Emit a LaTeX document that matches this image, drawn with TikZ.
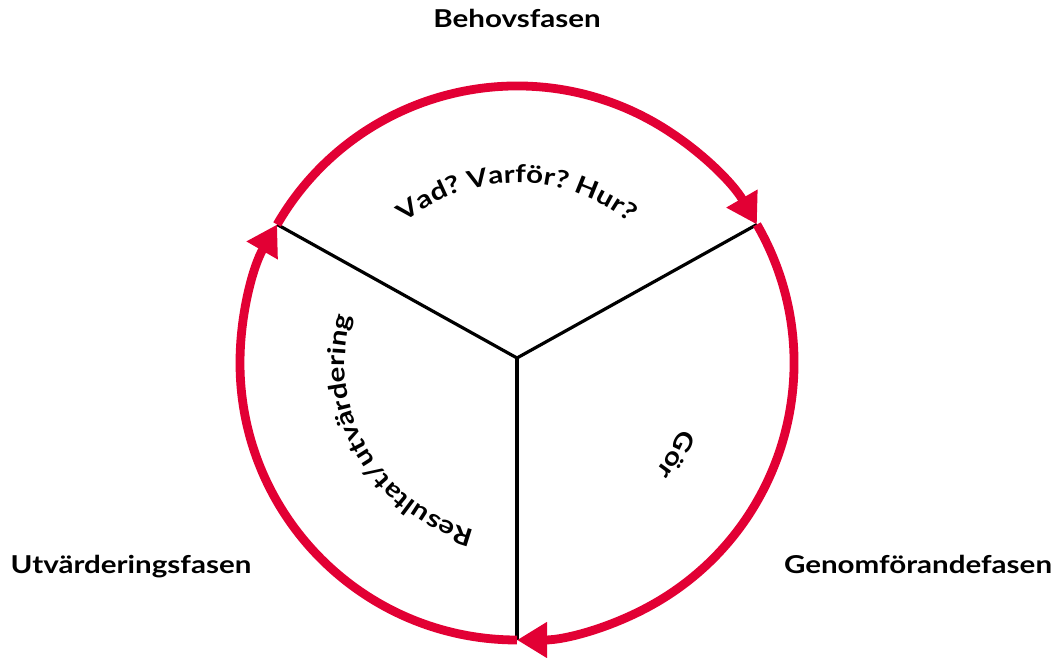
\documentclass[tikz,border=0pt]{standalone}
\usepackage{fontspec}
\setmainfont{Lato}[FakeStretch=1.2]
\usetikzlibrary{arrows.meta,decorations.text}

\definecolor{cykelrod}{RGB}{226,0,52}
\newcommand\fasfont{\bfseries\fontsize{17.5}{21}\selectfont}

\begin{document}
\begin{tikzpicture}[x=0.025cm,y=0.025cm,
	fas/.style={font=\fasfont, inner sep=0pt, anchor=base},
	varv/.style={draw=cykelrod, line width=0.22cm, -{Triangle[length=0.75cm, width=0.85cm]}},
	eker/.style={draw=black, line width=0.08cm},
	bagtext/.style={decorate, decoration={text along path, text align=center, text={|\fasfont|#1}}}]
	\useasboundingbox (0,0) rectangle (1056,657);
	\coordinate (m) at (517,294);
	\coordinate (hub) at (517,299);
	\coordinate (p1) at ([shift={(m)}]150:277);
	\coordinate (p2) at ([shift={(m)}]30:277);
	\coordinate (p3) at ([shift={(m)}]270:277);
	% ekrar
	\draw[eker] (hub) -- (p1);
	\draw[eker] (hub) -- (p2);
	\draw[eker] (hub) -- (p3);
	% cirkeln
	\draw[varv] (p1) arc[start angle=150, end angle=30, radius=277];
	\draw[varv] (p2) arc[start angle=30, end angle=-90, radius=277];
	\draw[varv] (p3) arc[start angle=270, end angle=150, radius=277];
	% text i sektorerna
	\path[bagtext={Vad? Varför? Hur?}] ([shift={(m)}]150:180) arc[start angle=150, end angle=30, radius=180];
	\path[bagtext={Gör}] ([shift={(m)}]30:176) arc[start angle=30, end angle=-90, radius=176];
	\path[bagtext={Resultat/utvärdering}] ([shift={(m)}]270:172) arc[start angle=270, end angle=150, radius=172];
	% faserna
	\node[fas] (behov) at (517,629) {Behovsfasen};
	\node[fas] (utv) at (131,84) {Utvärderingsfasen};
	\node[fas] (genom) at (918,84) {Genomförandefasen};
\end{tikzpicture}
\end{document}
